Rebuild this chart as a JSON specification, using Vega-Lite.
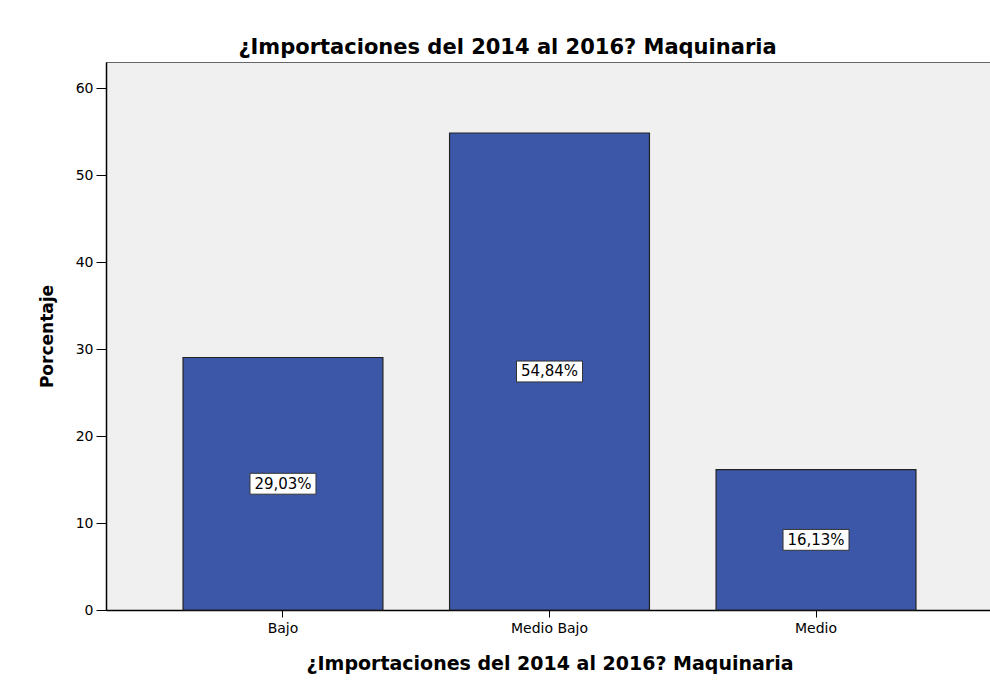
{
  "$schema": "https://vega.github.io/schema/vega-lite/v6.json",
  "autosize": {"type": "none"},
  "padding": {"left": 106, "top": 62, "right": 0, "bottom": 74},
  "width": 887,
  "height": 548,
  "background": "white",
  "title": {
    "text": "¿Importaciones del 2014 al 2016? Maquinaria",
    "font": "DejaVu Sans",
    "fontSize": 21,
    "fontWeight": "bold",
    "color": "#000000",
    "anchor": "middle",
    "dx": -42,
    "offset": 4
  },
  "data": {
    "values": [
      {"categoria": "Bajo", "porcentaje": 29.03, "etiqueta": "29,03%"},
      {"categoria": "Medio Bajo", "porcentaje": 54.84, "etiqueta": "54,84%"},
      {"categoria": "Medio", "porcentaje": 16.13, "etiqueta": "16,13%"}
    ]
  },
  "transform": [
    {"calculate": "datum.porcentaje / 2", "as": "mid"},
    {"calculate": "datum.porcentaje / 2 - 1.2", "as": "lo"},
    {"calculate": "datum.porcentaje / 2 + 1.2", "as": "hi"}
  ],
  "encoding": {
    "x": {
      "field": "categoria",
      "type": "nominal",
      "sort": ["Bajo", "Medio Bajo", "Medio"],
      "scale": {"paddingInner": 0.25, "paddingOuter": 0.289},
      "axis": {
        "title": "¿Importaciones del 2014 al 2016? Maquinaria",
        "titleFont": "DejaVu Sans",
        "titleFontSize": 19,
        "titleFontWeight": "bold",
        "titleColor": "#000000",
        "titlePadding": 19,
        "labelAngle": 0,
        "labelFont": "DejaVu Sans",
        "labelFontSize": 14,
        "labelColor": "#000000",
        "labelPadding": 4,
        "tickSize": 7,
        "tickColor": "#000000",
        "domainColor": "#000000",
        "domainWidth": 1.5
      }
    }
  },
  "layer": [
    {
      "mark": {"type": "bar", "color": "#3d57a8", "stroke": "#222222", "strokeWidth": 1.2},
      "encoding": {
        "y": {
          "field": "porcentaje",
          "type": "quantitative",
          "scale": {"domain": [0, 63], "nice": false},
          "axis": {
            "title": "Porcentaje",
            "titleFont": "DejaVu Sans",
            "titleFontSize": 17,
            "titleFontWeight": "bold",
            "titleColor": "#000000",
            "titlePadding": 19,
            "values": [0, 10, 20, 30, 40, 50, 60],
            "grid": false,
            "labelFont": "DejaVu Sans",
            "labelFontSize": 14,
            "labelColor": "#000000",
            "labelPadding": 3,
            "tickSize": 10,
            "tickColor": "#000000",
            "domainColor": "#000000",
            "domainWidth": 1.5
          }
        }
      }
    },
    {
      "mark": {"type": "bar", "width": 66, "color": "#ffffff", "stroke": "#333333", "strokeWidth": 1},
      "encoding": {
        "y": {"field": "lo", "type": "quantitative"},
        "y2": {"field": "hi"}
      }
    },
    {
      "mark": {"type": "text", "font": "DejaVu Sans", "fontSize": 15, "color": "#000000", "baseline": "middle"},
      "encoding": {
        "y": {"field": "mid", "type": "quantitative"},
        "text": {"field": "etiqueta"}
      }
    }
  ],
  "config": {
    "view": {"fill": "#f0f0f0", "stroke": "#666666", "strokeWidth": 1}
  }
}
